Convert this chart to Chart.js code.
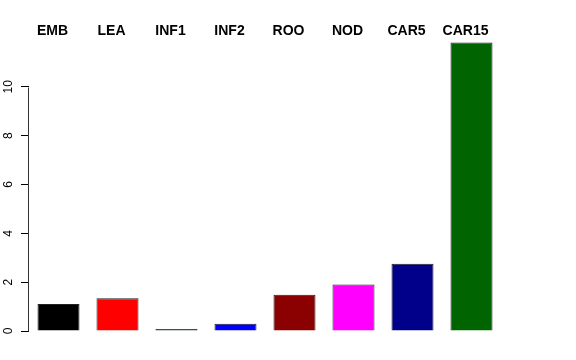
<!DOCTYPE html>
<html>
<head>
<meta charset="utf-8">
<script src="https://cdn.jsdelivr.net/npm/chart.js@4/dist/chart.umd.min.js"></script>
<style>
html,body{margin:0;padding:0;background:#fff;}
#wrap{width:576px;height:360px;position:relative;}
</style>
</head>
<body>
<div id="wrap"><canvas id="c" width="576" height="360"></canvas></div>
<script>
const categories = ["EMB","LEA","INF1","INF2","ROO","NOD","CAR5","CAR15"];
const values = [1.11, 1.34, 0.08, 0.30, 1.48, 1.90, 2.75, 11.82];
const barColors = ["#000000","#FF0000","#1F3A1F","#0000FF","#8B0000","#FF00FF","#00008B","#006400"];
const yTicks = [0, 2, 4, 6, 8, 10];

const axisDecor = {
  id: 'axisDecor',
  afterDraw(chart) {
    const y = chart.scales.y;
    const ctx = chart.ctx;
    const x = chart.chartArea.left - 0.5;
    ctx.save();
    ctx.strokeStyle = '#333';
    ctx.lineWidth = 1;
    ctx.beginPath();
    ctx.moveTo(x, Math.round(y.getPixelForValue(yTicks[0])) + 0.5);
    ctx.lineTo(x, Math.round(y.getPixelForValue(yTicks[yTicks.length - 1])) + 0.5);
    ctx.stroke();
    ctx.fillStyle = '#000';
    ctx.font = '12px "Liberation Sans", Arial, sans-serif';
    ctx.textAlign = 'center';
    ctx.textBaseline = 'middle';
    y.ticks.forEach(t => {
      const py = y.getPixelForValue(t.value);
      ctx.save();
      ctx.translate(9, py);
      ctx.rotate(-Math.PI / 2);
      ctx.fillText(String(t.value), 0, 0);
      ctx.restore();
    });
    ctx.restore();
  }
};

new Chart(document.getElementById('c'), {
  type: 'bar',
  data: {
    labels: categories,
    datasets: [{
      data: values,
      backgroundColor: barColors,
      borderColor: '#222',
      borderWidth: 1,
      categoryPercentage: 1,
      barPercentage: 0.712
    }]
  },
  options: {
    responsive: false,
    animation: false,
    devicePixelRatio: 1,
    layout: { padding: { left: 0, right: 75, top: 0, bottom: 29 } },
    plugins: { legend: { display: false }, tooltip: { enabled: false } },
    scales: {
      x: {
        position: 'top',
        grid: { display: false, drawTicks: false },
        border: { display: false },
        ticks: {
          color: '#000',
          font: { family: 'Liberation Sans, Arial, sans-serif', size: 14, weight: 'bold' },
          labelOffset: -6,
          padding: -2,
          maxRotation: 0,
          minRotation: 0
        },
        afterFit(s) { s.height = 38; }
      },
      y: {
        min: 0,
        max: 12,
        grid: { drawOnChartArea: false, tickLength: 8, color: '#000', tickWidth: 1 },
        border: { display: false },
        afterBuildTicks(s) { s.ticks = yTicks.map(v => ({ value: v })); },
        ticks: {
          color: 'rgba(0,0,0,0)',
          font: { family: 'Liberation Sans, Arial, sans-serif', size: 12 },
          padding: 4
        },
        afterFit(s) { s.width = 29; }
      }
    }
  },
  plugins: [axisDecor]
});
</script>
</body>
</html>
